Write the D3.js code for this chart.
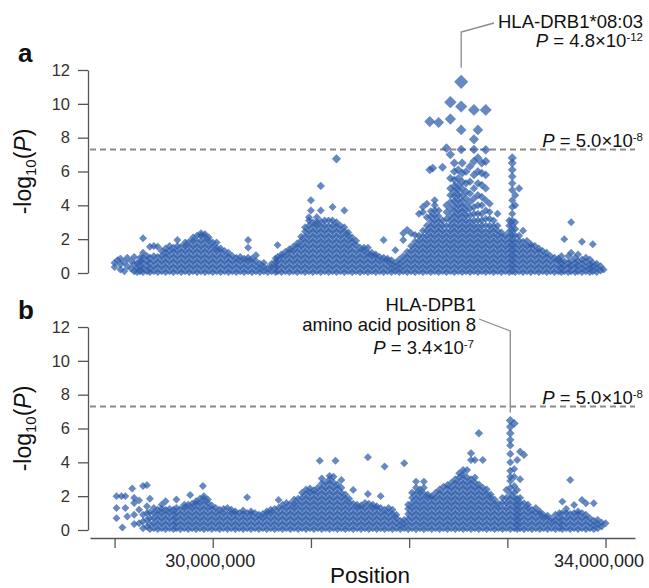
<!DOCTYPE html>
<html>
<head>
<meta charset="utf-8">
<script src="https://cdn.jsdelivr.net/npm/d3@7"></script>
<style>
  body { margin: 0; background: #fff; }
  text { font-family: "Liberation Sans", Arial, Helvetica, sans-serif; }
</style>
</head>
<body>
<svg></svg>
<script>
const snpsA = [
  [29.00, 0.35, 0.6], [29.03, 0.75], [29.06, 0.2, 0.5, 0.85], [29.10, 0.1, 0.65], [29.13, 0.4, 0.9],
  [29.17, 0.25, 0.7], [29.20, 0.1, 0.5, 0.95], [29.23, 0.05, 0.3, 0.6], [29.26, 0.1, 0.35, 0.65, 0.9],
  [29.29, 0.05, 0.3, 0.6, 0.9, 1.2, 2.05], [29.33, 0.1, 0.4, 0.7, 1.0], [29.36, 0.05, 0.3, 0.6, 0.9, 1.55],
  [29.40, 0.1, 0.4, 0.7, 1.0, 1.6], [29.44, 0.05, 0.35, 0.65, 0.95, 1.55], [29.48, 0.1, 0.4, 0.7, 1.0, 1.3],
  [29.52, 0.05, 0.35, 0.65, 0.95, 1.2, 1.45], [29.56, 0.1, 0.4, 0.7, 1.0, 1.3, 1.6],
  [29.60, 0.05, 0.35, 0.65, 0.95, 1.25, 1.5], [29.64, 0.1, 0.4, 0.7, 1.0, 1.3, 1.6, 1.95],
  [29.68, 0.05, 0.35, 0.65, 0.95, 1.25, 1.55], [29.72, 0.1, 0.4, 0.7, 1.0, 1.3, 1.6, 1.8],
  [29.76, 0.05, 0.35, 0.65, 0.95, 1.25, 1.55, 1.85], [29.80, 0.1, 0.4, 0.7, 1.0, 1.3, 1.6, 1.9, 2.1],
  [29.84, 0.05, 0.35, 0.65, 0.95, 1.25, 1.55, 1.85, 2.2], [29.88, 0.1, 0.4, 0.7, 1.0, 1.3, 1.6, 1.9, 2.2, 2.35],
  [29.92, 0.05, 0.35, 0.65, 0.95, 1.25, 1.55, 1.85, 2.15, 2.3], [29.96, 0.1, 0.4, 0.7, 1.0, 1.3, 1.6, 1.9, 2.1],
  [30.00, 0.05, 0.35, 0.65, 0.95, 1.25, 1.55, 1.8], [30.04, 0.1, 0.4, 0.7, 1.0, 1.3, 1.5, 1.8],
  [30.08, 0.05, 0.35, 0.65, 0.95, 1.25, 1.45], [30.12, 0.1, 0.4, 0.7, 1.0, 1.3],
  [30.16, 0.05, 0.35, 0.65, 0.95, 1.2], [30.20, 0.1, 0.4, 0.7, 1.0], [30.24, 0.05, 0.35, 0.65, 0.9],
  [30.28, 0.1, 0.4, 0.7, 0.95], [30.32, 0.05, 0.35, 0.65, 0.85], [30.36, 0.1, 0.4, 0.7, 0.9, 1.5, 1.95],
  [30.40, 0.05, 0.35, 0.65, 0.85], [30.44, 0.1, 0.4, 0.7, 1.05], [30.48, 0.05, 0.3, 0.55],
  [30.52, 0.1, 0.35, 0.6], [30.56, 0.05, 0.3], [30.60, 0.1, 0.35, 0.55], [30.64, 0.05, 0.35, 0.65, 0.85],
  [30.66, 0.1, 0.4, 0.7, 0.95, 1.65], [30.70, 0.05, 0.35, 0.65, 0.95, 1.1], [30.74, 0.1, 0.4, 0.7, 1.0, 1.25],
  [30.78, 0.05, 0.35, 0.65, 0.95, 1.25, 1.4], [30.82, 0.1, 0.4, 0.7, 1.0, 1.3, 1.55],
  [30.86, 0.05, 0.35, 0.65, 0.95, 1.25, 1.55, 1.75], [30.90, 0.1, 0.4, 0.7, 1.0, 1.3, 1.6, 1.9, 2.15],
  [30.94, 0.05, 0.35, 0.65, 0.95, 1.25, 1.55, 1.85, 2.15, 2.45, 2.7],
  [30.98, 0.1, 0.4, 0.7, 1.0, 1.3, 1.6, 1.9, 2.2, 2.5, 2.8, 3.1, 3.3], [31.00, 3.7, 4.3],
  [31.02, 0.05, 0.35, 0.65, 0.95, 1.25, 1.55, 1.85, 2.15, 2.45, 2.75, 3.0],
  [31.06, 0.1, 0.4, 0.7, 1.0, 1.3, 1.6, 1.9, 2.2, 2.5, 2.8, 3.0, 3.3],
  [31.10, 0.05, 0.35, 0.65, 0.95, 1.25, 1.55, 1.85, 2.15, 2.45, 2.75, 3.05, 3.7, 5.15],
  [31.14, 0.1, 0.4, 0.7, 1.0, 1.3, 1.6, 1.9, 2.2, 2.5, 2.8, 3.1],
  [31.18, 0.05, 0.35, 0.65, 0.95, 1.25, 1.55, 1.85, 2.15, 2.45, 2.75, 3.1],
  [31.22, 0.1, 0.4, 0.7, 1.0, 1.3, 1.6, 1.9, 2.2, 2.5, 2.8, 3.1, 3.9],
  [31.26, 0.05, 0.35, 0.65, 0.95, 1.25, 1.55, 1.85, 2.15, 2.45, 2.75, 3.0, 6.75],
  [31.30, 0.1, 0.4, 0.7, 1.0, 1.3, 1.6, 1.9, 2.2, 2.5, 2.8],
  [31.34, 0.05, 0.35, 0.65, 0.95, 1.25, 1.55, 1.85, 2.15, 2.45, 2.7, 3.7],
  [31.38, 0.1, 0.4, 0.7, 1.0, 1.3, 1.6, 1.9, 2.2, 2.4], [31.42, 0.05, 0.35, 0.65, 0.95, 1.25, 1.55, 1.85, 2.1],
  [31.46, 0.1, 0.4, 0.7, 1.0, 1.3, 1.65, 1.9], [31.50, 0.05, 0.35, 0.65, 0.95, 1.25, 1.5],
  [31.54, 0.1, 0.4, 0.7, 1.0, 1.3, 1.5], [31.58, 0.05, 0.35, 0.65, 0.95, 1.2, 1.5],
  [31.62, 0.1, 0.4, 0.7, 1.0, 1.2], [31.66, 0.05, 0.35, 0.65, 0.95, 1.1], [31.70, 0.1, 0.4, 0.7, 0.95],
  [31.74, 0.05, 0.35, 0.65, 0.9, 1.95], [31.78, 0.1, 0.4, 0.7, 0.85], [31.82, 0.05, 0.3, 0.55, 0.75],
  [31.86, 0.1, 0.35, 0.6, 1.35], [31.90, 0.05, 0.3, 0.55, 0.8], [31.94, 0.1, 0.4, 0.7, 1.0, 1.95, 2.35],
  [31.98, 0.05, 0.35, 0.65, 0.95, 1.25, 2.55], [32.02, 0.1, 0.4, 0.7, 1.0, 1.3, 1.6, 2.35],
  [32.06, 0.05, 0.35, 0.65, 0.95, 1.25, 1.55, 1.85, 2.25], [32.10, 0.1, 0.4, 0.7, 1.0, 1.3, 1.6, 1.9, 2.2, 3.5],
  [32.14, 0.05, 0.35, 0.65, 0.95, 1.25, 1.55, 1.85, 2.15, 2.5, 3.6, 3.9],
  [32.18, 0.1, 0.4, 0.7, 1.0, 1.3, 1.6, 1.9, 2.2, 2.5, 2.8, 3.3, 4.1], [32.21, 6.1, 8.95],
  [32.22, 0.05, 0.35, 0.65, 0.95, 1.25, 1.55, 1.85, 2.15, 2.45, 2.75, 3.05, 3.35, 3.65], [32.24, 6.2],
  [32.26, 0.1, 0.4, 0.7, 1.0, 1.3, 1.6, 1.9, 2.2, 2.5, 2.8, 3.1, 3.4, 3.7, 4.0, 4.3],
  [32.30, 0.05, 0.35, 0.65, 0.95, 1.25, 1.55, 1.85, 2.15, 2.45, 2.75, 3.05, 3.35, 3.7, 8.9],
  [32.34, 0.1, 0.4, 0.7, 1.0, 1.3, 1.6, 1.9, 2.2, 2.5, 2.8, 3.1, 6.25],
  [32.38, 0.05, 0.35, 0.65, 0.95, 1.25, 1.55, 1.85, 2.15, 2.45, 2.8, 3.2, 3.6, 4.0, 7.38],
  [32.42, 0.1, 0.4, 0.7, 1.0, 1.3, 1.6, 1.9, 2.2, 2.5, 2.8, 3.1, 3.4, 3.8, 4.2, 4.6, 5.0, 5.6, 7.0, 9.1, 10.1],
  [32.46, 0.05, 0.35, 0.65, 0.95, 1.25, 1.55, 1.85, 2.15, 2.45, 2.75, 3.05, 3.35, 3.65, 3.95, 4.25, 4.55, 4.85, 5.15, 5.5, 6.0, 6.5],
  [32.50, 0.1, 0.4, 0.7, 1.0, 1.3, 1.6, 1.9, 2.2, 2.5, 2.8, 3.1, 3.4, 3.7, 4.0, 4.3, 4.6, 4.9, 5.2, 5.6, 6.1],
  [32.53, 7.3, 8.46, 9.84, 11.3],
  [32.54, 0.05, 0.35, 0.65, 0.95, 1.25, 1.55, 1.85, 2.15, 2.45, 2.75, 3.05, 3.35, 3.65, 3.95, 4.25, 4.6, 5.0, 5.4, 5.9, 6.5],
  [32.58, 0.1, 0.4, 0.7, 1.0, 1.3, 1.6, 1.9, 2.2, 2.5, 2.8, 3.1, 3.4, 3.7, 4.0, 4.4, 4.8, 5.3, 6.0],
  [32.62, 0.05, 0.35, 0.65, 0.95, 1.25, 1.55, 1.85, 2.15, 2.45, 2.75, 3.05, 3.4, 3.8, 4.2, 4.7, 5.4, 6.3],
  [32.66, 0.1, 0.4, 0.7, 1.0, 1.3, 1.6, 1.9, 2.2, 2.5, 2.8, 3.1, 3.5, 3.9, 4.4, 5.0, 5.8, 6.6, 7.3, 7.9, 9.64],
  [32.70, 0.05, 0.35, 0.65, 0.95, 1.25, 1.55, 1.85, 2.15, 2.45, 2.75, 3.1, 3.5, 4.0, 4.6, 5.3, 6.0, 6.8, 8.46],
  [32.74, 0.1, 0.4, 0.7, 1.0, 1.3, 1.6, 1.9, 2.2, 2.5, 2.8, 3.1, 3.5, 4.0, 4.5, 5.2, 5.9, 6.5],
  [32.78, 0.05, 0.35, 0.65, 0.95, 1.25, 1.55, 1.85, 2.15, 2.45, 2.8, 3.2, 3.7, 4.3, 5.0, 5.8, 6.6, 7.28, 9.64],
  [32.82, 0.1, 0.4, 0.7, 1.0, 1.3, 1.6, 1.9, 2.2, 2.5, 2.8, 3.2, 3.6, 4.1],
  [32.86, 0.05, 0.35, 0.65, 0.95, 1.25, 1.55, 1.85, 2.15, 2.45, 2.75, 3.1],
  [32.90, 0.1, 0.4, 0.7, 1.0, 1.3, 1.6, 1.9, 2.2, 2.5, 2.8, 3.5],
  [32.94, 0.05, 0.35, 0.65, 0.95, 1.25, 1.55, 1.85, 2.15, 2.4], [32.98, 0.1, 0.4, 0.7, 1.0, 1.3, 1.6, 1.9, 2.2],
  [33.02, 0.05, 0.35, 0.65, 0.95, 1.25, 1.55, 1.85, 2.15, 2.45, 2.8, 3.1],
  [33.05, 0.1, 0.4, 0.7, 1.0, 1.3, 1.6, 1.9, 2.2, 2.5, 2.8, 3.1, 3.5, 3.9, 4.3, 4.9, 5.3, 5.7, 6.1, 6.5, 6.8],
  [33.08, 0.05, 0.35, 0.65, 0.95, 1.25, 1.55, 1.85, 2.2, 2.6, 3.0, 4.0, 4.6],
  [33.12, 0.1, 0.4, 0.7, 1.0, 1.3, 1.6, 1.9, 2.2, 5.0], [33.16, 0.05, 0.35, 0.65, 0.95, 1.25, 1.55, 1.85, 2.5],
  [33.20, 0.1, 0.4, 0.7, 1.0, 1.3, 1.6, 1.9], [33.24, 0.05, 0.35, 0.65, 0.95, 1.25, 1.55, 1.7],
  [33.28, 0.1, 0.4, 0.7, 1.0, 1.3, 1.6], [33.32, 0.05, 0.35, 0.65, 0.95, 1.25, 1.45],
  [33.36, 0.1, 0.4, 0.7, 1.0, 1.3], [33.40, 0.05, 0.35, 0.65, 0.95, 1.2], [33.44, 0.1, 0.4, 0.7, 1.0],
  [33.48, 0.05, 0.35, 0.65, 0.9], [33.52, 0.1, 0.4, 0.7, 0.85], [33.55, 0.05, 0.35, 0.65, 1.0],
  [33.58, 0.1, 0.4, 0.7, 2.0], [33.62, 0.05, 0.35, 0.6, 1.0], [33.65, 0.1, 0.4, 0.7, 1.2, 3.0],
  [33.69, 0.05, 0.35, 0.6, 0.9], [33.72, 0.1, 0.4, 0.7, 1.1], [33.76, 0.05, 0.3, 0.55, 0.8, 1.85],
  [33.80, 0.1, 0.35, 0.65, 0.9], [33.84, 0.05, 0.3, 0.5, 0.8], [33.87, 0.1, 0.35, 0.6, 1.7],
  [33.91, 0.05, 0.3, 0.55], [33.95, 0.15, 0.4], [33.98, 0.2]
];

const snpsB = [
  [29.02, 0.7, 1.3, 2.0], [29.07, 2.0], [29.08, 0.15], [29.11, 1.3, 2.0], [29.13, 0.8], [29.18, 2.45],
  [29.20, 0.35, 0.9, 1.6, 1.9], [29.25, 0.4, 1.2, 1.75], [29.29, 0.1, 0.5, 0.9, 2.6],
  [29.33, 0.2, 0.6, 1.0, 1.4, 2.65], [29.36, 0.05, 0.35, 0.7, 1.05, 1.85], [29.40, 0.1, 0.4, 0.7, 1.0, 1.3],
  [29.44, 0.05, 0.35, 0.65, 0.95, 1.2], [29.48, 0.1, 0.4, 0.7, 1.0, 1.25, 1.5],
  [29.52, 0.05, 0.35, 0.65, 0.95, 1.2, 1.7], [29.56, 0.1, 0.4, 0.7, 1.0, 1.25],
  [29.60, 0.05, 0.35, 0.65, 0.95, 1.2], [29.63, 0.1, 0.4, 0.7, 1.0, 1.3, 1.8],
  [29.67, 0.05, 0.35, 0.65, 0.95, 1.25], [29.71, 0.1, 0.4, 0.7, 1.0, 1.3, 1.5],
  [29.75, 0.05, 0.35, 0.65, 0.95, 1.25, 1.5], [29.77, 2.07], [29.79, 0.1, 0.4, 0.7, 1.0, 1.3, 1.55],
  [29.83, 0.05, 0.35, 0.65, 0.95, 1.25, 1.55, 1.7], [29.87, 0.1, 0.4, 0.7, 1.0, 1.3, 1.6, 1.85], [29.90, 2.6],
  [29.91, 0.05, 0.35, 0.65, 0.95, 1.25, 1.55, 1.85, 2.0], [29.95, 0.1, 0.4, 0.7, 1.0, 1.3, 1.6, 1.8],
  [29.99, 0.05, 0.35, 0.65, 0.95, 1.25, 1.45], [30.03, 0.1, 0.4, 0.7, 1.0, 1.3],
  [30.07, 0.05, 0.35, 0.65, 0.95, 1.2], [30.11, 0.1, 0.4, 0.7, 1.0, 1.25], [30.15, 0.05, 0.35, 0.65, 0.95, 1.3],
  [30.19, 0.1, 0.4, 0.7, 1.0, 1.2], [30.23, 0.05, 0.35, 0.65, 0.95, 1.1], [30.27, 0.1, 0.4, 0.7, 1.0],
  [30.31, 0.05, 0.35, 0.65, 0.95, 1.15], [30.35, 0.1, 0.4, 0.7, 1.0, 1.93], [30.39, 0.05, 0.35, 0.65, 0.95, 1.1],
  [30.43, 0.1, 0.4, 0.7, 1.0], [30.47, 0.05, 0.35, 0.65, 0.9], [30.51, 0.1, 0.4, 0.7, 0.95],
  [30.55, 0.05, 0.35, 0.65, 0.95, 1.1], [30.59, 0.1, 0.4, 0.7, 1.0, 1.2], [30.63, 0.05, 0.35, 0.65, 0.95, 1.25],
  [30.67, 0.1, 0.4, 0.7, 1.0, 1.3, 1.78], [30.71, 0.05, 0.35, 0.65, 0.95, 1.25, 1.5],
  [30.75, 0.1, 0.4, 0.7, 1.0, 1.3, 1.6], [30.79, 0.05, 0.35, 0.65, 0.95, 1.25, 1.55],
  [30.83, 0.1, 0.4, 0.7, 1.0, 1.3, 1.55, 1.8], [30.87, 0.05, 0.35, 0.65, 0.95, 1.25, 1.55, 1.85],
  [30.91, 0.1, 0.4, 0.7, 1.0, 1.3, 1.6, 1.9, 2.2], [30.95, 0.05, 0.35, 0.65, 0.95, 1.25, 1.55, 1.85, 2.15, 2.4],
  [30.99, 0.1, 0.4, 0.7, 1.0, 1.3, 1.6, 1.9, 2.2, 2.45], [31.03, 0.05, 0.35, 0.65, 0.95, 1.25, 1.55, 1.85, 2.15, 2.35],
  [31.07, 0.1, 0.4, 0.7, 1.0, 1.3, 1.6, 1.9, 2.2, 2.5], [31.09, 4.1],
  [31.11, 0.05, 0.35, 0.65, 0.95, 1.25, 1.55, 1.85, 2.15, 2.45, 2.75, 3.05],
  [31.15, 0.1, 0.4, 0.7, 1.0, 1.3, 1.6, 1.9, 2.2, 2.5, 2.8],
  [31.19, 0.05, 0.35, 0.65, 0.95, 1.25, 1.55, 1.85, 2.15, 2.45, 2.75, 3.0, 3.2],
  [31.23, 0.1, 0.4, 0.7, 1.0, 1.3, 1.6, 1.9, 2.2, 2.5, 2.8, 3.15], [31.25, 4.1],
  [31.27, 0.05, 0.35, 0.65, 0.95, 1.25, 1.55, 1.85, 2.15, 2.45, 2.7],
  [31.31, 0.1, 0.4, 0.7, 1.0, 1.3, 1.6, 1.9, 2.2, 2.5, 2.96], [31.35, 0.05, 0.35, 0.65, 0.95, 1.25, 1.55, 1.85, 2.1],
  [31.39, 0.1, 0.4, 0.7, 1.0, 1.3, 1.6, 1.85], [31.43, 0.05, 0.35, 0.65, 0.95, 1.25, 1.55, 2.37],
  [31.47, 0.1, 0.4, 0.7, 1.0, 1.3, 1.5], [31.51, 0.05, 0.35, 0.65, 0.95, 1.25, 1.45],
  [31.55, 0.1, 0.4, 0.7, 1.0, 1.3, 1.6], [31.58, 2.13, 4.3], [31.59, 0.05, 0.35, 0.65, 0.95, 1.25, 1.55],
  [31.63, 0.1, 0.4, 0.7, 1.0, 1.3, 1.5], [31.67, 0.05, 0.35, 0.65, 0.95, 1.25, 1.4],
  [31.71, 0.1, 0.4, 0.7, 1.0, 1.3, 2.0], [31.75, 0.05, 0.35, 0.65, 0.95, 1.2, 3.75],
  [31.79, 0.1, 0.4, 0.7, 1.0, 1.3], [31.83, 0.05, 0.35, 0.65, 0.95, 1.2], [31.87, 0.1, 0.4, 0.7, 0.9],
  [31.91, 0.05, 0.3, 0.55], [31.95, 0.1, 0.35, 0.6, 3.95], [31.99, 0.05, 0.35, 0.65, 0.95, 1.25, 1.5],
  [32.03, 0.1, 0.4, 0.7, 1.0, 1.3, 1.6, 1.9, 2.2], [32.07, 0.05, 0.35, 0.65, 0.95, 1.25, 1.55, 1.85, 2.15, 2.5, 2.86],
  [32.11, 0.1, 0.4, 0.7, 1.0, 1.3, 1.6, 1.9, 2.2, 2.4], [32.15, 0.05, 0.35, 0.65, 0.95, 1.25, 1.55, 1.85, 2.15, 2.5, 2.86],
  [32.19, 0.1, 0.4, 0.7, 1.0, 1.3, 1.6, 1.9, 2.1], [32.23, 0.05, 0.35, 0.65, 0.95, 1.25, 1.55, 1.85, 2.0],
  [32.27, 0.1, 0.4, 0.7, 1.0, 1.3, 1.6, 1.9, 2.2], [32.31, 0.05, 0.35, 0.65, 0.95, 1.25, 1.55, 1.85, 2.15, 2.4],
  [32.35, 0.1, 0.4, 0.7, 1.0, 1.3, 1.6, 1.9, 2.2, 2.56], [32.39, 0.05, 0.35, 0.65, 0.95, 1.25, 1.55, 1.85, 2.15, 2.45, 2.66],
  [32.43, 0.1, 0.4, 0.7, 1.0, 1.3, 1.6, 1.9, 2.2, 2.5, 2.8],
  [32.47, 0.05, 0.35, 0.65, 0.95, 1.25, 1.55, 1.85, 2.15, 2.45, 2.75, 3.0],
  [32.51, 0.1, 0.4, 0.7, 1.0, 1.3, 1.6, 1.9, 2.2, 2.5, 2.8, 3.1, 3.35],
  [32.55, 0.05, 0.35, 0.65, 0.95, 1.25, 1.55, 1.85, 2.15, 2.45, 2.75, 3.05, 3.3, 3.55],
  [32.59, 0.1, 0.4, 0.7, 1.0, 1.3, 1.6, 1.9, 2.2, 2.5, 2.8, 3.1, 3.55],
  [32.63, 0.05, 0.35, 0.65, 0.95, 1.25, 1.55, 1.85, 2.15, 2.45, 2.75, 3.0, 4.14, 4.54],
  [32.67, 0.1, 0.4, 0.7, 1.0, 1.3, 1.6, 1.9, 2.2, 2.5, 2.8, 3.1, 4.14],
  [32.71, 0.05, 0.35, 0.65, 0.95, 1.25, 1.55, 1.85, 2.15, 2.45, 2.7, 5.72],
  [32.75, 0.1, 0.4, 0.7, 1.0, 1.3, 1.6, 1.9, 2.2, 2.5, 4.14], [32.79, 0.05, 0.35, 0.65, 0.95, 1.25, 1.55, 1.85, 2.15, 2.4],
  [32.83, 0.1, 0.4, 0.7, 1.0, 1.3, 1.6, 1.9, 2.1], [32.87, 0.05, 0.35, 0.65, 0.95, 1.25, 1.55, 1.8],
  [32.91, 0.1, 0.4, 0.7, 1.0, 1.3, 1.55], [32.95, 0.05, 0.35, 0.65, 0.95, 1.25, 1.6, 1.9],
  [32.99, 0.1, 0.4, 0.7, 1.0, 1.3, 1.6, 1.9, 2.37],
  [33.03, 0.05, 0.35, 0.65, 0.95, 1.25, 1.55, 1.85, 2.15, 2.5, 2.9, 3.15, 3.5, 4.0, 4.5, 5.0, 5.33, 5.72, 6.1, 6.47],
  [33.07, 0.1, 0.4, 0.7, 1.0, 1.3, 1.6, 1.9, 2.2, 2.6, 3.15, 3.6, 6.3],
  [33.10, 0.05, 0.35, 0.65, 0.95, 1.25, 1.55, 1.85, 2.37, 4.14], [33.13, 0.1, 0.4, 0.7, 1.0, 1.3, 1.6, 1.9, 3.0, 4.63],
  [33.17, 0.05, 0.35, 0.65, 0.95, 1.25, 1.58, 4.44], [33.21, 0.1, 0.4, 0.7, 1.0, 1.3, 1.5],
  [33.25, 0.05, 0.35, 0.65, 0.95, 1.2], [33.29, 0.1, 0.4, 0.7, 1.0, 1.3], [33.33, 0.05, 0.35, 0.65, 0.95, 1.1],
  [33.37, 0.1, 0.4, 0.7, 0.89], [33.41, 0.05, 0.35, 0.65, 0.85], [33.45, 0.1, 0.4, 0.65],
  [33.49, 0.05, 0.35, 0.6, 0.9], [33.53, 0.1, 0.4, 0.7, 1.0], [33.56, 0.05, 0.35, 0.65, 1.0, 1.68],
  [33.60, 0.1, 0.4, 0.7, 1.0, 1.25], [33.64, 0.05, 0.35, 0.65, 0.95, 2.96], [33.68, 0.1, 0.4, 0.7, 1.0, 1.48],
  [33.72, 0.05, 0.35, 0.65, 0.95, 1.1], [33.76, 0.1, 0.4, 0.7, 1.0, 1.78], [33.80, 0.05, 0.35, 0.65, 0.9, 1.58],
  [33.84, 0.1, 0.4, 0.7], [33.88, 0.05, 0.3, 0.55, 1.58], [33.92, 0.1, 0.35, 0.6], [33.96, 0.2, 0.43], [34.00, 0.4]
];

const xTicks = [29, 30, 31, 32, 33, 34];
const xLabelled = [30, 34];
const yTicks = [0, 2, 4, 6, 8, 10, 12];
const gwsLine = 7.3;   // -log10(5.0e-8)

const svg = d3.select('svg')
    .attr('width', 649)
    .attr('height', 588);

const x = d3.scaleLinear().domain([28.75, 34.3]).range([90, 635]);

const blue = '#2b5cab';
const grey = '#8a8a8a';

function radius(v) {
    return v > 3 ? 3.7 + 0.045 * (v - 3) * (v - 3) : 3.7;
}

function diamond(r) {
    return `M0,${-r}L${r},0L0,${r}L${-r},0Z`;
}

// P = a x 10^b with the exponent raised
function pText(sel, mant, exp) {
    sel.append('tspan').style('font-style', 'italic').text('P');
    sel.append('tspan').text(' = ' + mant + '\u00d710');
    sel.append('tspan').attr('dy', -6).style('font-size', '11.5px').text(exp);
}

function drawPanel(cols, top, bottom, letter) {
    const y = d3.scaleLinear().domain([0, 12]).range([bottom, top]);

    const g = svg.append('g');

    // y axis
    const ax = g.append('g')
        .attr('transform', 'translate(88,0)')
        .call(d3.axisLeft(y).tickValues(yTicks).tickSize(10).tickSizeOuter(0).tickPadding(8));
    ax.selectAll('path, line').attr('stroke', '#555').attr('stroke-width', 1.3);
    ax.selectAll('text').attr('fill', '#333').style('font-size', '16.5px')
        .style('font-family', '"Liberation Sans", Arial, sans-serif');

    // y label
    const lab = g.append('text')
        .attr('transform', `translate(31,${(top + bottom) / 2}) rotate(-90)`)
        .attr('text-anchor', 'middle')
        .style('font-size', '23px')
        .attr('fill', '#111');
    lab.append('tspan').text('-log');
    lab.append('tspan').attr('dy', 5).style('font-size', '15px').text('10');
    lab.append('tspan').attr('dy', -5).text('(');
    lab.append('tspan').style('font-style', 'italic').text('P');
    lab.append('tspan').text(')');

    // panel letter
    g.append('text')
        .attr('x', 18)
        .attr('y', top - 8)
        .style('font-size', '26px')
        .style('font-weight', 'bold')
        .attr('fill', '#111')
        .text(letter);

    // genome-wide significance
    g.append('line')
        .attr('x1', 90).attr('x2', 635)
        .attr('y1', y(gwsLine)).attr('y2', y(gwsLine))
        .attr('stroke', grey)
        .attr('stroke-width', 2)
        .attr('stroke-dasharray', '6,4');

    const thr = g.append('text')
        .attr('x', 643)
        .attr('y', y(gwsLine) - 3)
        .attr('text-anchor', 'end')
        .style('font-size', '18.5px')
        .attr('fill', '#111');
    pText(thr, '5.0', '-8');

    const pts = cols.flatMap(c => c.slice(1).map(v => ({ pos: c[0], logp: v })))
        .sort((a, b) => a.logp - b.logp);

    g.append('g').selectAll('path')
        .data(pts)
        .enter()
        .append('path')
        .attr('transform', d => `translate(${x(d.pos)},${y(d.logp)})`)
        .attr('d', d => diamond(radius(d.logp)))
        .attr('fill', blue)
        .attr('fill-opacity', 0.72)
        .attr('stroke', blue)
        .attr('stroke-opacity', 0.5)
        .attr('stroke-width', 0.6);

    return y;
}

const yA = drawPanel(snpsA, 70, 273, 'a');
const yB = drawPanel(snpsB, 327, 530, 'b');

// top hit, panel a
svg.append('path')
    .attr('d', `M494,23L${x(32.53)},32L${x(32.53)},${yA(11.3) - 14}`)
    .attr('fill', 'none')
    .attr('stroke', grey)
    .attr('stroke-width', 1.3);

svg.append('text')
    .attr('x', 643).attr('y', 28)
    .attr('text-anchor', 'end')
    .style('font-size', '18.5px')
    .attr('fill', '#111')
    .text('HLA-DRB1*08:03');

const pa = svg.append('text')
    .attr('x', 643).attr('y', 47)
    .attr('text-anchor', 'end')
    .style('font-size', '18.5px')
    .attr('fill', '#111');
pText(pa, '4.8', '-12');

// top hit, panel b
svg.append('path')
    .attr('d', `M479,319L${x(33.03)},331L${x(33.03)},${yB(6.47) - 8}`)
    .attr('fill', 'none')
    .attr('stroke', grey)
    .attr('stroke-width', 1.3);

svg.append('text')
    .attr('x', 476).attr('y', 310.5)
    .attr('text-anchor', 'end')
    .style('font-size', '18.5px')
    .attr('fill', '#111')
    .text('HLA-DPB1');

svg.append('text')
    .attr('x', 476).attr('y', 330.5)
    .attr('text-anchor', 'end')
    .style('font-size', '18.5px')
    .attr('fill', '#111')
    .text('amino acid position 8');

const pb = svg.append('text')
    .attr('x', 474).attr('y', 353.5)
    .attr('text-anchor', 'end')
    .style('font-size', '18.5px')
    .attr('fill', '#111');
pText(pb, '3.4', '-7');

// x axis
const xa = svg.append('g')
    .attr('transform', 'translate(0,538)')
    .call(d3.axisBottom(x)
        .tickValues(xTicks)
        .tickSize(10)
        .tickSizeOuter(0)
        .tickPadding(6)
        .tickFormat(d => xLabelled.includes(d) ? d3.format(',')(d * 1e6) : ''));
xa.selectAll('path, line').attr('stroke', '#555').attr('stroke-width', 1.3);
xa.selectAll('text').attr('fill', '#222').style('font-size', '18px')
    .style('font-family', '"Liberation Sans", Arial, sans-serif')
    .attr('dx', d => d === 34 ? -7 : -3);

svg.append('text')
    .attr('x', 370).attr('y', 583)
    .attr('text-anchor', 'middle')
    .style('font-size', '22.5px')
    .attr('fill', '#111')
    .text('Position');
</script>
</body>
</html>
